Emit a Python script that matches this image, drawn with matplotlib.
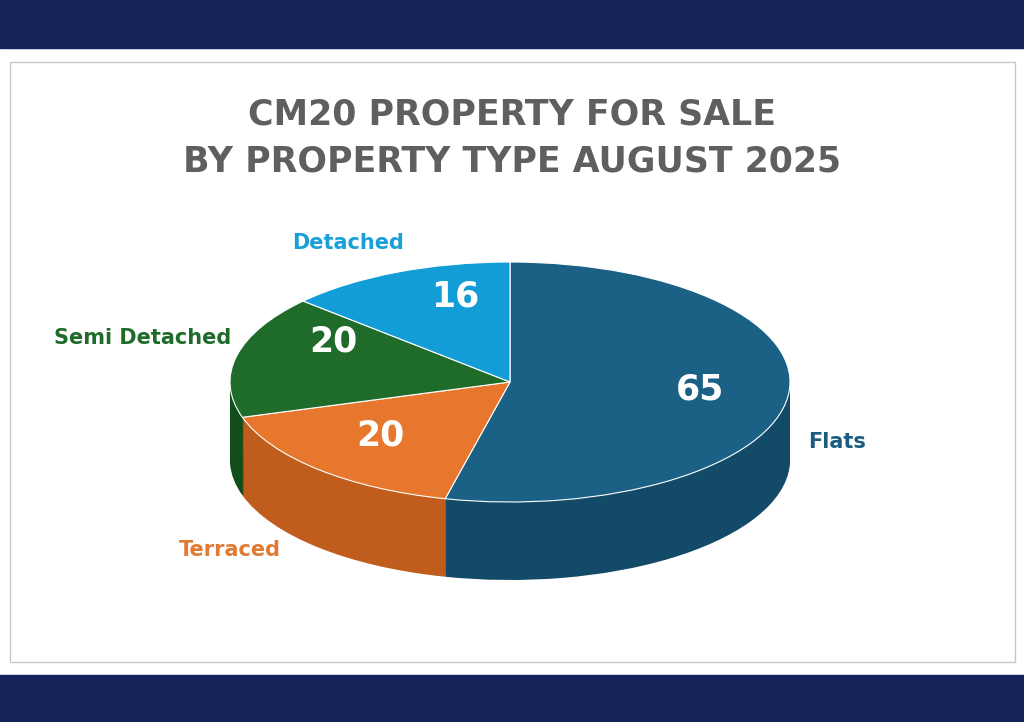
import matplotlib
matplotlib.use("Agg")
import matplotlib.pyplot as plt
import numpy as np
from matplotlib.patches import Rectangle

categories = ["Flats", "Terraced", "Semi Detached", "Detached"]
values = [65, 20, 20, 16]
colors = ["#1b6186", "#e8772e", "#1e6b2a", "#139dd6"]
side_colors = ["#124a68", "#c05c1c", "#134d1c", "#0d7aa8"]
label_colors = ["#1b5d80", "#e07a35", "#1e6b2a", "#1aa0d8"]
title = "CM20 PROPERTY FOR SALE\nBY PROPERTY TYPE AUGUST 2025"

W, H = 1024, 722
fig = plt.figure(figsize=(W/100, H/100), dpi=100)
bg = fig.add_axes([0, 0, 1, 1])
bg.set_xlim(0, W); bg.set_ylim(H, 0); bg.axis("off")
bg.add_patch(Rectangle((0, 0), W, 48, color="#13235a"))
bg.add_patch(Rectangle((0, 675), W, 47, color="#13235a"))
bg.add_patch(Rectangle((10, 62), 1005, 600, facecolor="white", edgecolor="#c8c8c8", lw=1))

# pie axes: x 230..790, y 262..580 px
x0, x1, yt, yb = 230, 790, 262, 580
depth = 0.65
ax = fig.add_axes([x0/W, 1 - yb/H, (x1-x0)/W, (yb-yt)/H])
for d in np.linspace(depth, 0.01, 40):
    ax.pie(values, colors=side_colors, startangle=90, counterclock=False,
           center=(0, -d), radius=1, wedgeprops=dict(linewidth=0))
ax.pie(values, colors=colors, startangle=90, counterclock=False,
       center=(0, 0), radius=1, wedgeprops=dict(linewidth=0.8, edgecolor="white"))
ax.set_aspect("auto")
ax.set_xlim(-1, 1); ax.set_ylim(-1 - depth, 1)
ax.axis("off")

# value labels
inner = [(700, 390), (380, 435), (333, 342), (455, 297)]
for (px, py), v in zip(inner, values):
    fig.text(px/W, 1 - py/H, str(v), color="white", fontsize=25, fontweight="bold",
             ha="center", va="center")
outer = [(837, 442), (230, 550), (143, 338), (348, 243)]
for (px, py), c, lc in zip(outer, categories, label_colors):
    fig.text(px/W, 1 - py/H, c, color=lc, fontsize=15, fontweight="bold",
             ha="center", va="center")

fig.text(0.5, 1 - 138/H, title, ha="center", va="center", fontsize=25,
         fontweight="bold", color="#5f5f5f", linespacing=1.5)
fig.savefig("out.png", dpi=100)
